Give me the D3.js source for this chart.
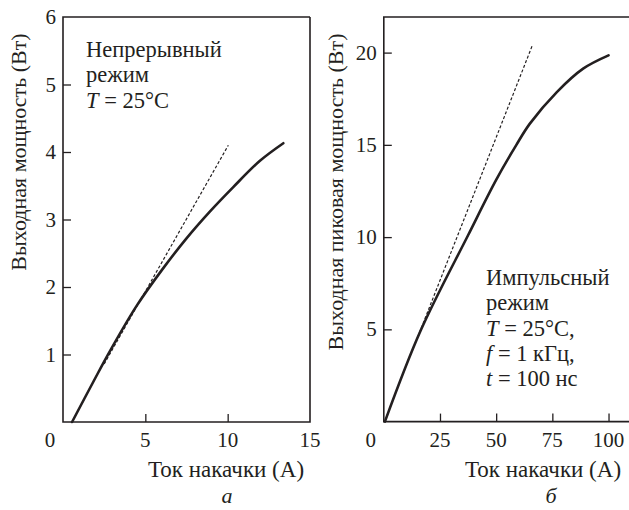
<!DOCTYPE html>
<html>
<head>
<meta charset="utf-8">
<script src="https://cdn.jsdelivr.net/npm/d3@7"></script>
<style>
  body { margin: 0; background: #fff; }
</style>
</head>
<body>
<div id="chart"></div>
<script>
// panel a: continuous mode
var cwCurrent = [0.55, 1.85, 2.85, 4.47, 6.0, 7.5, 8.93, 10.34, 11.96, 13.38];
var cwPower   = [0, 0.6, 1.05, 1.72, 2.25, 2.72, 3.12, 3.48, 3.87, 4.13];
var cwFitCurrent = [2.5, 10.04];
var cwFitPower   = [0.86, 4.10];
var cwXTicks = [0, 5, 10, 15];
var cwYTicks = [1, 2, 3, 4, 5, 6];

// panel b: pulsed mode
var pulseCurrent = [0.5, 16.5, 37.5, 50, 59, 65, 77, 88.7, 100];
var pulsePower   = [0, 4.96, 10.1, 13.1, 15.0, 16.15, 17.86, 19.13, 19.85];
var pulseFitCurrent = [15, 66.1];
var pulseFitPower   = [4.55, 20.39];
var pulseXTicks = [0, 25, 50, 75, 100];
var pulseYTicks = [5, 10, 15, 20];

var W = 629, H = 510;
var ink = "#231f20";
var serif = "'Liberation Serif', 'DejaVu Serif', 'Noto Serif', Tinos, 'Times New Roman', Times, FreeSerif, 'Nimbus Roman', serif";

var svg = d3.select("#chart").append("svg")
    .attr("width", W)
    .attr("height", H)
    .attr("font-family", serif);

function zip(a, b) {
    return a.map(function(v, i) { return [v, b[i]]; });
}

function txt(sel) {
    return sel.append("text")
        .style("font-family", serif)
        .attr("fill", ink);
}

function drawPanel(o) {
    var x = d3.scaleLinear().domain(o.xDomain).range([o.left, o.right]);
    var y = d3.scaleLinear().domain(o.yDomain).range([o.bottom, o.top]);
    var g = svg.append("g");

    // frame
    g.append("path")
        .attr("d", "M" + o.right + "," + o.top + "H" + o.left + "V" + o.bottom + "H" + o.right + (o.closeRight ? "V" + o.top : ""))
        .attr("fill", "none")
        .attr("stroke", ink)
        .attr("stroke-width", 1.6);

    // inward ticks
    var xAxis = d3.axisTop(x).tickValues(o.xTicks.filter(function(d) {
        return d > o.xDomain[0] && x(d) < o.right - 2;
    })).tickSize(8).tickFormat("");
    g.append("g")
        .attr("transform", "translate(0," + o.bottom + ")")
        .call(xAxis)
        .call(function(s) { s.select(".domain").remove(); s.selectAll("line").attr("stroke", ink).attr("stroke-width", 1.3); });

    var yAxis = d3.axisRight(y).tickValues(o.yTicks.filter(function(d) {
        return d < o.yDomain[1] - 0.01;
    })).tickSize(8).tickFormat("");
    g.append("g")
        .attr("transform", "translate(" + o.left + ",0)")
        .call(yAxis)
        .call(function(s) { s.select(".domain").remove(); s.selectAll("line").attr("stroke", ink).attr("stroke-width", 1.3); });

    // tick labels
    o.xTicks.forEach(function(d) {
        txt(g).attr("x", d === 0 ? x(d) - 13 : x(d))
            .attr("y", o.bottom + 25)
            .attr("text-anchor", "middle")
            .attr("font-size", 21)
            .text(d);
    });
    o.yTicks.forEach(function(d) {
        txt(g).attr("x", o.left - 7)
            .attr("y", y(d) + 7)
            .attr("text-anchor", "end")
            .attr("font-size", 21)
            .text(d);
    });

    // axis titles
    txt(g).attr("x", o.xTitleX)
        .attr("y", 477)
        .attr("text-anchor", "middle")
        .attr("font-size", 23)
        .text("Ток накачки (А)");

    txt(g).attr("transform", "translate(" + o.yTitleX + "," + o.yTitleY + ") rotate(-90)")
        .attr("text-anchor", "middle")
        .attr("font-size", 22)
        .text(o.yTitle);

    txt(g).attr("x", o.xTitleX + o.letterDx)
        .attr("y", 503)
        .attr("text-anchor", "middle")
        .attr("font-size", 22)
        .attr("font-style", "italic")
        .text(o.letter);

    // curves
    var line = d3.line()
        .x(function(d) { return x(d[0]); })
        .y(function(d) { return y(d[1]); });

    g.append("path")
        .datum(zip(o.fitX, o.fitY))
        .attr("d", line)
        .attr("fill", "none")
        .attr("stroke", ink)
        .attr("stroke-width", 1.2)
        .attr("stroke-dasharray", "3,2");

    g.append("path")
        .datum(zip(o.dataX, o.dataY))
        .attr("d", line.curve(d3.curveCatmullRom.alpha(0.5)))
        .attr("fill", "none")
        .attr("stroke", ink)
        .attr("stroke-width", 2.6)
        .attr("stroke-linecap", "round");

    // annotation
    var note = txt(g).attr("font-size", 22.5);
    o.note.forEach(function(row, i) {
        var t = note.append("tspan")
            .attr("x", o.noteX)
            .attr("y", o.noteY + i * 25.3);
        row.forEach(function(part) {
            t.append("tspan")
                .attr("font-style", part[1] ? "italic" : null)
                .text(part[0]);
        });
    });
}

drawPanel({
    left: 63, right: 310, top: 17, bottom: 422, closeRight: true,
    xDomain: [0, 15], yDomain: [0, 6],
    xTicks: cwXTicks, yTicks: cwYTicks,
    dataX: cwCurrent, dataY: cwPower,
    fitX: cwFitCurrent, fitY: cwFitPower,
    xTitleX: 226, yTitle: "Выходная мощность (Вт)", yTitleX: 26, yTitleY: 152,
    letter: "а", letterDx: 1,
    noteX: 86, noteY: 57,
    note: [[["Непрерывный", false]], [["режим", false]], [["T", true], [" = 25°C", false]]]
});

drawPanel({
    left: 383.8, right: 631, top: 17, bottom: 421.6, closeRight: false,
    xDomain: [0, 110], yDomain: [0, 21.93],
    xTicks: pulseXTicks, yTicks: pulseYTicks,
    dataX: pulseCurrent, dataY: pulsePower,
    fitX: pulseFitCurrent, fitY: pulseFitPower,
    xTitleX: 543, yTitle: "Выходная пиковая мощность (Вт)", yTitleX: 343, yTitleY: 192,
    letter: "б", letterDx: 8,
    noteX: 486, noteY: 285,
    note: [[["Импульсный", false]], [["режим", false]], [["T", true], [" = 25°C,", false]],
           [["f", true], [" = 1 кГц,", false]], [["t", true], [" = 100 нс", false]]]
});
</script>
</body>
</html>
